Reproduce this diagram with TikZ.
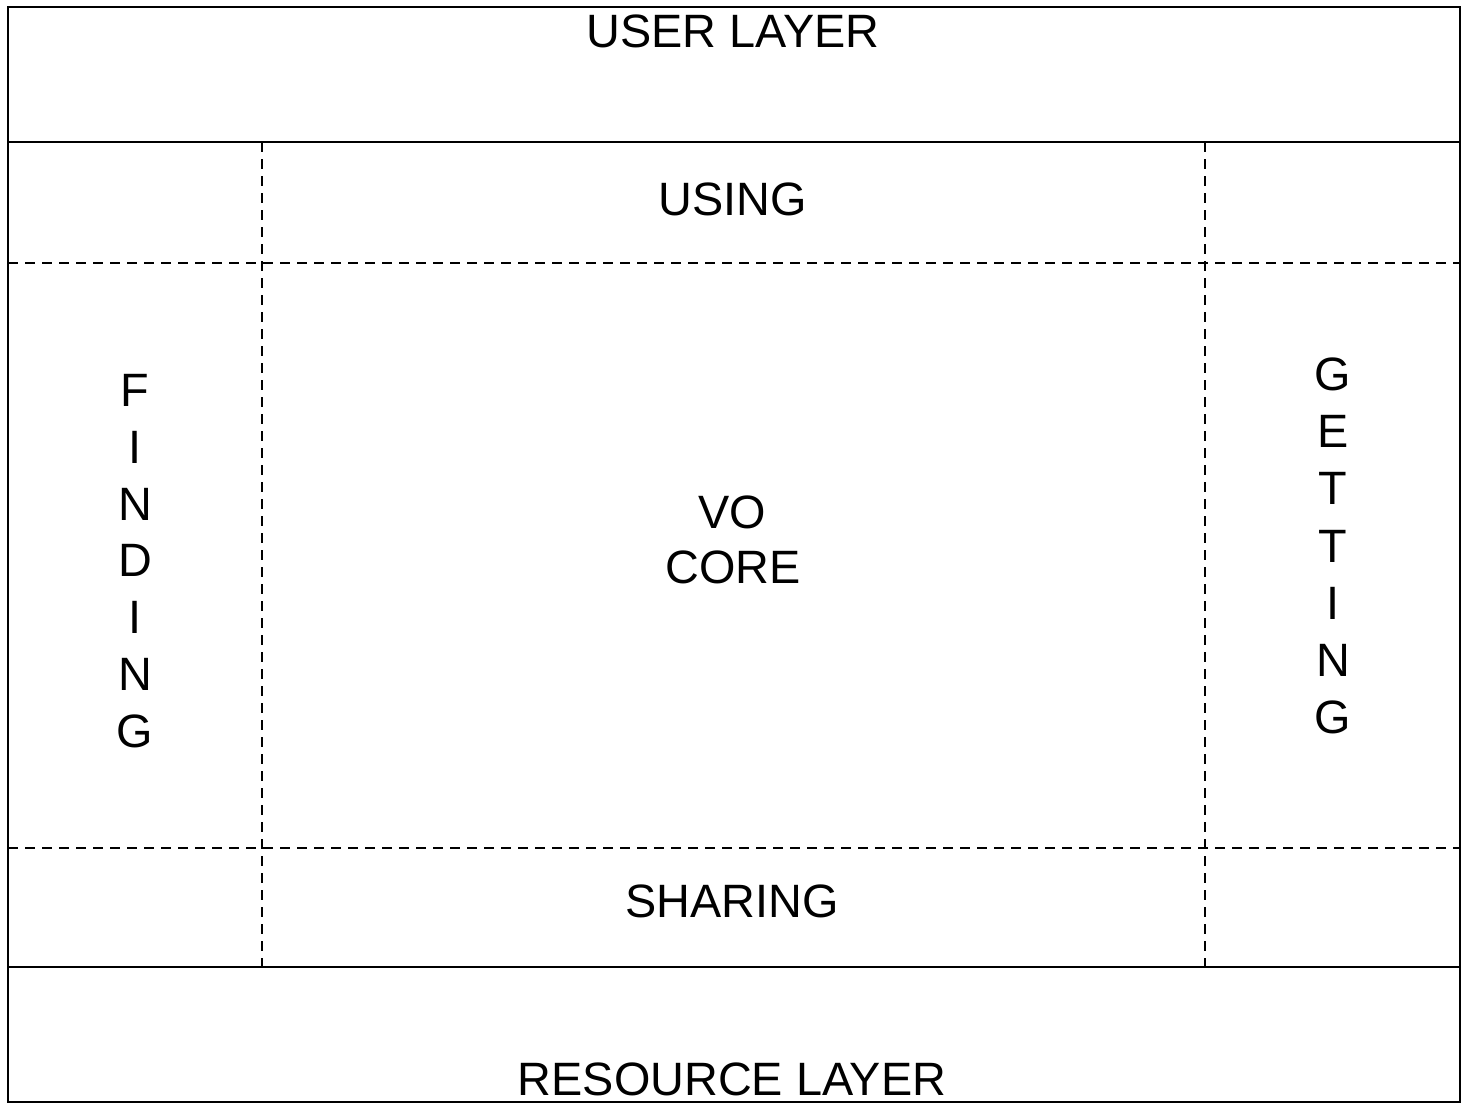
\documentclass[tikz,border=0pt]{standalone}
\usepackage{fontspec}
\setmainfont{Liberation Sans}
\begin{document}
\begin{tikzpicture}[x=1pt,y=-1pt,
  solidline/.style={line width=2.2pt,black},
  dashline/.style={line width=2pt,black,dash pattern=on 10pt off 7pt},
  lbl/.style={anchor=base,inner sep=0pt,font=\fontsize{46.8}{54}\selectfont}]
\useasboundingbox[fill=white] (0,0) rectangle (1461,1104);
% partitions
\draw[dashline] (262,142) -- (262,966);
\draw[dashline] (1205,142) -- (1205,966);
\draw[dashline] (8,263) -- (1460,263);
\draw[dashline] (8,848) -- (1460,848);
\draw[solidline] (8,7) rectangle (1460,1102);
\draw[solidline] (8,142) -- (1460,142);
\draw[solidline] (8,967) -- (1460,967);
% labels
\node[lbl] (user) at (733,47) {USER LAYER};
\node[lbl] (using) at (733,215) {USING};
\node[lbl] (vo) at (732,528) {VO};
\node[lbl] (core) at (733,583) {CORE};
\node[lbl] (sharing) at (732,917) {SHARING};
\node[lbl] (resource) at (732,1095) {RESOURCE LAYER};
\foreach \c [count=\i from 0] in {F,I,N,D,I,N,G}
  \node[lbl] (find\i) at (135,{406.5+56.8*\i}) {\c};
\foreach \c [count=\i from 0] in {G,E,T,T,I,N,G}
  \node[lbl] (get\i) at (1333,{390.5+57.2*\i}) {\c};
\end{tikzpicture}
\end{document}
